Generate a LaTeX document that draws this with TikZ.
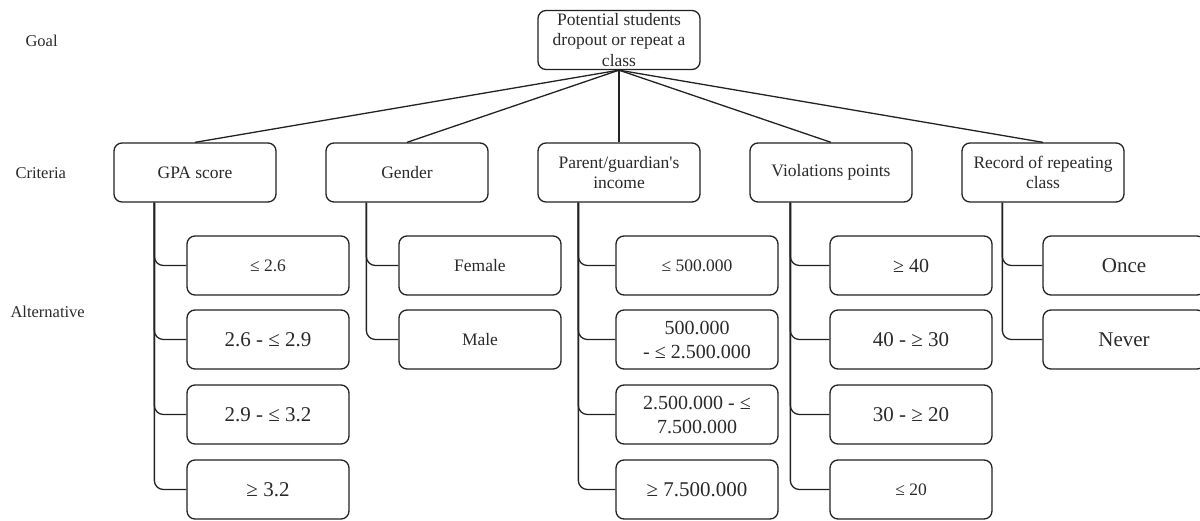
\documentclass[tikz,border=0pt]{standalone}
\usepackage{fontspec}
\setmainfont{Liberation Serif}
\definecolor{ln}{HTML}{222222}
\definecolor{tx}{HTML}{2a2a2a}
\begin{document}
\begin{tikzpicture}[x=1pt,y=-1pt,
  box/.style={draw=ln,line width=1.3pt,rounded corners=8pt,minimum width=162pt,minimum height=59pt,inner sep=0pt,align=center,text=tx,font=\fontsize{17.5}{20.5}\selectfont},
  big/.style={box,font=\fontsize{21}{24}\selectfont},
  lab/.style={anchor=west,text=tx,font=\fontsize{16.5}{19}\selectfont},
  con/.style={draw=ln,line width=1.3pt},
  tr/.style={draw=ln,line width=1.3pt,rounded corners=9pt}]
\useasboundingbox (0,0) rectangle (1200,520);
\node[lab] (lgoal) at (22,41) {Goal};
\node[lab] (lcrit) at (12,173) {Criteria};
\node[lab] (lalt) at (7,312) {Alternative};

\node[box] (goal) at (619,40) {Potential students\\dropout or repeat a\\class};

\node[box] (gpa) at (195,172.5) {GPA score};
\node[box] (gen) at (407,172.5) {Gender};
\node[box] (inc) at (619,172.5) {Parent/guardian\textquotesingle s\\income};
\node[box] (vio) at (831,172.5) {Violations points};
\node[box] (rec) at (1043,172.5) {Record of repeating\\class};

\foreach \c in {gpa,gen,inc,vio,rec}{\draw[con] (goal.south) -- (\c.north);}

% GPA
\node[box] (g1) at (268,265.5) {≤ 2.6};
\node[big] (g2) at (268,339.5) {2.6 - ≤ 2.9};
\node[big] (g3) at (268,414.5) {2.9 - ≤ 3.2};
\node[big] (g4) at (268,489.5) {≥ 3.2};
% Gender
\node[box] (s1) at (480,265.5) {Female};
\node[box] (s2) at (480,339.5) {Male};
% Income
\node[box] (i1) at (697,265.5) {≤ 500.000};
\node[big,font=\fontsize{20}{24}\selectfont] (i2) at (697,339.5) {500.000\\- ≤ 2.500.000};
\node[big,font=\fontsize{20}{24}\selectfont] (i3) at (697,414.5) {2.500.000 - ≤\\7.500.000};
\node[big] (i4) at (697,489.5) {≥ 7.500.000};
% Violations
\node[big,font=\fontsize{20}{24}\selectfont] (v1) at (911,265.5) {≥ 40};
\node[big] (v2) at (911,339.5) {40 - ≥ 30};
\node[big] (v3) at (911,414.5) {30 - ≥ 20};
\node[box] (v4) at (911,489.5) {≤ 20};
% Record
\node[big] (r1) at (1124,265.5) {Once};
\node[big] (r2) at (1124,339.5) {Never};

\coordinate (tg) at ([xshift=41pt]gpa.south west);
\coordinate (ts) at ([xshift=41pt]gen.south west);
\coordinate (ti) at ([xshift=41pt]inc.south west);
\coordinate (tv) at ([xshift=41pt]vio.south west);
\coordinate (tr) at ([xshift=41pt]rec.south west);

\foreach \t/\c in {tg/g1,tg/g2,tg/g3,tg/g4,ts/s1,ts/s2,ti/i1,ti/i2,ti/i3,ti/i4,tv/v1,tv/v2,tv/v3,tv/v4,tr/r1,tr/r2}{\draw[tr] (\t) |- (\c.west);}
\end{tikzpicture}
\end{document}
